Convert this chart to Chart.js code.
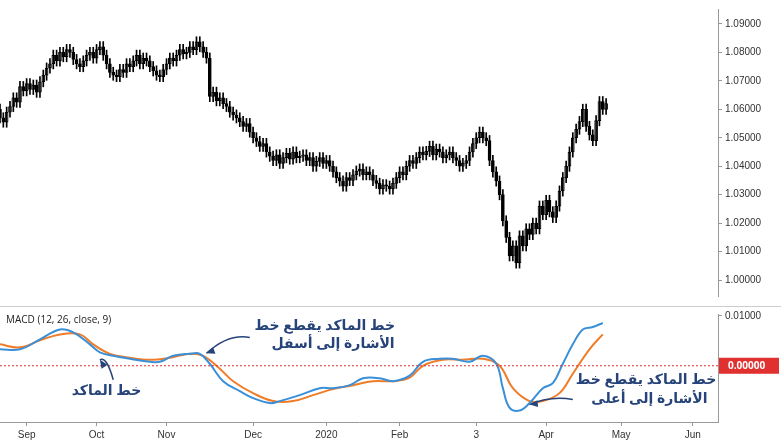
<!DOCTYPE html>
<html><head><meta charset="utf-8">
<script src="https://cdn.jsdelivr.net/npm/chart.js@4.4.1/dist/chart.umd.min.js"></script>
<style>
body{margin:0;background:#fff;width:781px;height:444px;overflow:hidden;position:relative;font-family:"Open Sans",sans-serif}
#price{position:absolute;left:0;top:0}
#macd{position:absolute;left:0;top:305px}
</style></head><body>
<canvas id="price" width="781" height="305"></canvas>
<canvas id="macd" width="781" height="139"></canvas>
<script>
// daily closes, EUR/USD Aug 2019 - Apr 2020
const closes = [
1.0570,1.0555,1.0590,1.0610,1.0640,1.0625,1.0680,1.0665,1.0690,1.0670,
1.0685,1.0660,1.0697,1.0720,1.0745,1.0760,1.0790,1.0770,1.0800,1.0785,
1.0810,1.0800,1.0775,1.0760,1.0750,1.0770,1.0790,1.0800,1.0780,1.0810,
1.0820,1.0790,1.0760,1.0730,1.0720,1.0715,1.0740,1.0730,1.0760,1.0750,
1.0770,1.0790,1.0760,1.0780,1.0770,1.0750,1.0735,1.0720,1.0715,1.0740,
1.0760,1.0780,1.0770,1.0790,1.0810,1.0795,1.0800,1.0820,1.0810,1.0837,
1.0820,1.0800,1.0780,1.0645,1.0660,1.0630,1.0640,1.0620,1.0610,1.0590,
1.0580,1.0570,1.0557,1.0540,1.0550,1.0520,1.0500,1.0487,1.0470,1.0480,
1.0450,1.0435,1.0420,1.0440,1.0410,1.0430,1.0445,1.0425,1.0450,1.0430,
1.0435,1.0440,1.0420,1.0430,1.0400,1.0417,1.0430,1.0410,1.0420,1.0400,
1.0380,1.0360,1.0348,1.0330,1.0360,1.0350,1.0370,1.0383,1.0390,1.0370,
1.0380,1.0370,1.0350,1.0340,1.0320,1.0335,1.0330,1.0320,1.0340,1.0360,
1.0380,1.0370,1.0400,1.0420,1.0410,1.0430,1.0450,1.0440,1.0452,1.0470,
1.0440,1.0460,1.0450,1.0430,1.0440,1.0450,1.0430,1.0420,1.0400,1.0410,
1.0420,1.0450,1.0480,1.0500,1.0520,1.0500,1.0490,1.0420,1.0380,1.0348,
1.0300,1.0208,1.0150,1.0085,1.0120,1.0060,1.0155,1.0120,1.0180,1.0160,
1.0200,1.0180,1.0260,1.0230,1.0280,1.0240,1.0220,1.0260,1.0313,1.0360,
1.0400,1.0450,1.0500,1.0530,1.0557,1.0600,1.0540,1.0510,1.0490,1.0560,
1.0627,1.0600,1.0620
];
const firstOpen = 1.0600;
const wick = 0.0018;

const macdIdx   = [0,6,12,18,22,27,30,34,39,45,48,52,57,60,63,67,72,76,81,84,90,96,100,105,109,114,118,123,127,132,136,141,145,149,151,153,156,159,163,166,169,172,175,178,181];
const macdLine  = [0.0033,0.0033,0.0053,0.0073,0.0067,0.0043,0.0027,0.0020,0.0014,0.0008,0.0008,0.0020,0.0024,0.0024,0.0004,-0.0031,-0.0051,-0.0065,-0.0075,-0.0071,-0.0059,-0.0045,-0.0045,-0.0039,-0.0025,-0.0025,-0.0031,-0.0020,0.0008,0.0014,0.0014,0.0008,0.0020,0.0004,-0.0045,-0.0084,-0.0090,-0.0075,-0.0045,-0.0035,0.0004,0.0043,0.0073,0.0078,0.0086];
const sigIdx    = [0,6,12,18,24,28,33,39,45,51,57,61,66,70,76,82,88,94,100,106,112,118,123,127,133,139,145,150,154,159,163,168,172,177,181];
const sigLine   = [0.0043,0.0037,0.0051,0.0063,0.0063,0.0043,0.0024,0.0016,0.0012,0.0016,0.0024,0.0020,-0.0006,-0.0031,-0.0055,-0.0071,-0.0071,-0.0059,-0.0047,-0.0039,-0.0031,-0.0031,-0.0024,0.0000,0.0012,0.0012,0.0014,0.0000,-0.0045,-0.0071,-0.0071,-0.0055,-0.0016,0.0033,0.0063];

const monthLabels = ["Sep","Oct","Nov","Dec","2020","Feb","3","Apr","May","Jun"];
const monthIdx    = [8,29,50,76,98,120,143,164,186.5,208];
const priceTicks  = [1.00,1.01,1.02,1.03,1.04,1.05,1.06,1.07,1.08,1.09];

const wicks = [], bodiesUp = [], bodiesDown = [];
closes.forEach((c, i) => {
  const o = i ? closes[i-1] : firstOpen;
  wicks.push({x: i, y: [Math.min(o,c) - wick, Math.max(o,c) + wick]});
  (c >= o ? bodiesUp : bodiesDown).push({x: i, y: [o, c]});
});

const XMIN = 0, XMAX = 215.6, AXW = 63;
const fitY = ax => { ax.width = AXW; };

new Chart(document.getElementById("price"), {
  type: "bar",
  data: {datasets: [
    {data: wicks, backgroundColor: "#000", barThickness: 1, grouped: false},
    {data: bodiesUp, backgroundColor: "#fff", borderColor: "#000", borderWidth: 1, barThickness: 3, grouped: false, borderSkipped: false},
    {data: bodiesDown, backgroundColor: "#000", borderColor: "#000", borderWidth: 1, barThickness: 3, grouped: false, borderSkipped: false}
  ]},
  options: {
    animation: false, responsive: false, maintainAspectRatio: false,
    plugins: {legend: {display: false}, tooltip: {enabled: false}},
    layout: {padding: 0},
    scales: {
      x: {type: "linear", min: XMIN, max: XMAX, offset: false, display: false},
      y: {position: "right", min: 0.9944, max: 1.09525, afterFit: fitY,
          afterBuildTicks: ax => { ax.ticks = priceTicks.map(v => ({value: v})); },
          grid: {drawOnChartArea: false, tickLength: 4, color: "#999"},
          border: {color: "#999"},
          ticks: {color: "#333", font: {size: 10}, callback: v => v.toFixed(5)}}
    }
  }
});

const annot = {
  id: "annot",
  afterDraw(ch) {
    const {ctx, scales: {x, y}, chartArea: a} = ch;
    ctx.save();
    ctx.strokeStyle = "#ccc"; ctx.lineWidth = 1;
    ctx.beginPath(); ctx.moveTo(0, 1.5); ctx.lineTo(781, 1.5); ctx.stroke();
    // zero line
    ctx.strokeStyle = "#e03030"; ctx.setLineDash([2, 2]);
    ctx.beginPath(); ctx.moveTo(a.left, y.getPixelForValue(0)); ctx.lineTo(a.right, y.getPixelForValue(0)); ctx.stroke();
    ctx.setLineDash([]);
    // red zero label
    const zy = y.getPixelForValue(0);
    ctx.fillStyle = "#e03030"; ctx.fillRect(a.right + 1, zy - 8, 60, 16);
    ctx.fillStyle = "#fff"; ctx.font = "bold 10px 'Open Sans'"; ctx.textAlign = "left"; ctx.textBaseline = "middle";
    ctx.fillText("0.00000", a.right + 10, zy);
    ctx.fillStyle = "#222"; ctx.font = "10px 'Open Sans'";
    ctx.fillText("MACD (12, 26, close, 9)", 6, 15);
    // arrows
    const arrow = (x1, y1, x2, y2) => {
      const X1 = x.getPixelForValue(x1), Y1 = y.getPixelForValue(y1), X2 = x.getPixelForValue(x2), Y2 = y.getPixelForValue(y2);
      ctx.strokeStyle = "#27447a"; ctx.fillStyle = "#27447a"; ctx.lineWidth = 1.5;
      ctx.beginPath(); ctx.moveTo(X1, Y1); ctx.quadraticCurveTo((X1+X2)/2, Math.min(Y1,Y2)-4, X2, Y2); ctx.stroke();
      const ang = Math.atan2(Y2 - Y1, X2 - X1);
      ctx.beginPath(); ctx.moveTo(X2, Y2);
      ctx.lineTo(X2 - 9*Math.cos(ang-0.4), Y2 - 9*Math.sin(ang-0.4));
      ctx.lineTo(X2 - 9*Math.cos(ang+0.4), Y2 - 9*Math.sin(ang+0.4));
      ctx.fill();
    };
    arrow(75, 0.0057, 62, 0.0025);
    arrow(34, -0.0028, 30, 0.0012);
    arrow(172, -0.0068, 159, -0.0078);
    const txt = (s, ix, v) => {
      ctx.font = "bold 14px 'Noto Sans', 'DejaVu Sans'"; ctx.textAlign = "center"; ctx.textBaseline = "middle";
      ctx.lineWidth = 4; ctx.strokeStyle = "#fff"; ctx.strokeText(s, x.getPixelForValue(ix), y.getPixelForValue(v));
      ctx.fillStyle = "#27447a"; ctx.fillText(s, x.getPixelForValue(ix), y.getPixelForValue(v));
    };
    txt("خط الماكد يقطع خط", 97.5, 0.0080);
    txt("الأشارة إلى أسفل", 100, 0.0043);
    txt("خط الماكد", 32, -0.0051);
    txt("خط الماكد يقطع خط", 194, -0.0029);
    txt("الأشارة إلى أعلى", 195, -0.0067);
    ctx.restore();
  }
};

new Chart(document.getElementById("macd"), {
  type: "line",
  data: {datasets: [
    {data: macdIdx.map((v, i) => ({x: v, y: macdLine[i]})), borderColor: "#3a8fd9", borderWidth: 2, pointRadius: 0, tension: 0.4},
    {data: sigIdx.map((v, i) => ({x: v, y: sigLine[i]})), borderColor: "#f07c28", borderWidth: 2, pointRadius: 0, tension: 0.4}
  ]},
  options: {
    animation: false, responsive: false, maintainAspectRatio: false,
    plugins: {legend: {display: false}, tooltip: {enabled: false}},
    layout: {padding: {top: 2}},
    scales: {
      x: {type: "linear", min: XMIN, max: XMAX,
          afterBuildTicks: ax => { ax.ticks = monthIdx.map(v => ({value: v})); },
          grid: {drawOnChartArea: false, tickLength: 4, color: "#999"},
          border: {color: "#999"},
          ticks: {color: "#333", font: {size: 10}, maxRotation: 0, autoSkip: false,
                  callback: (v, i) => monthLabels[i]}},
      y: {position: "right", min: -0.0113, max: 0.0104, afterFit: fitY,
          afterBuildTicks: ax => { ax.ticks = [{value: 0.01}]; },
          grid: {drawOnChartArea: false, tickLength: 4, color: "#999"},
          border: {color: "#999"},
          ticks: {color: "#333", font: {size: 10}, callback: v => v.toFixed(5)}}
    }
  },
  plugins: [annot]
});
</script></body></html>
